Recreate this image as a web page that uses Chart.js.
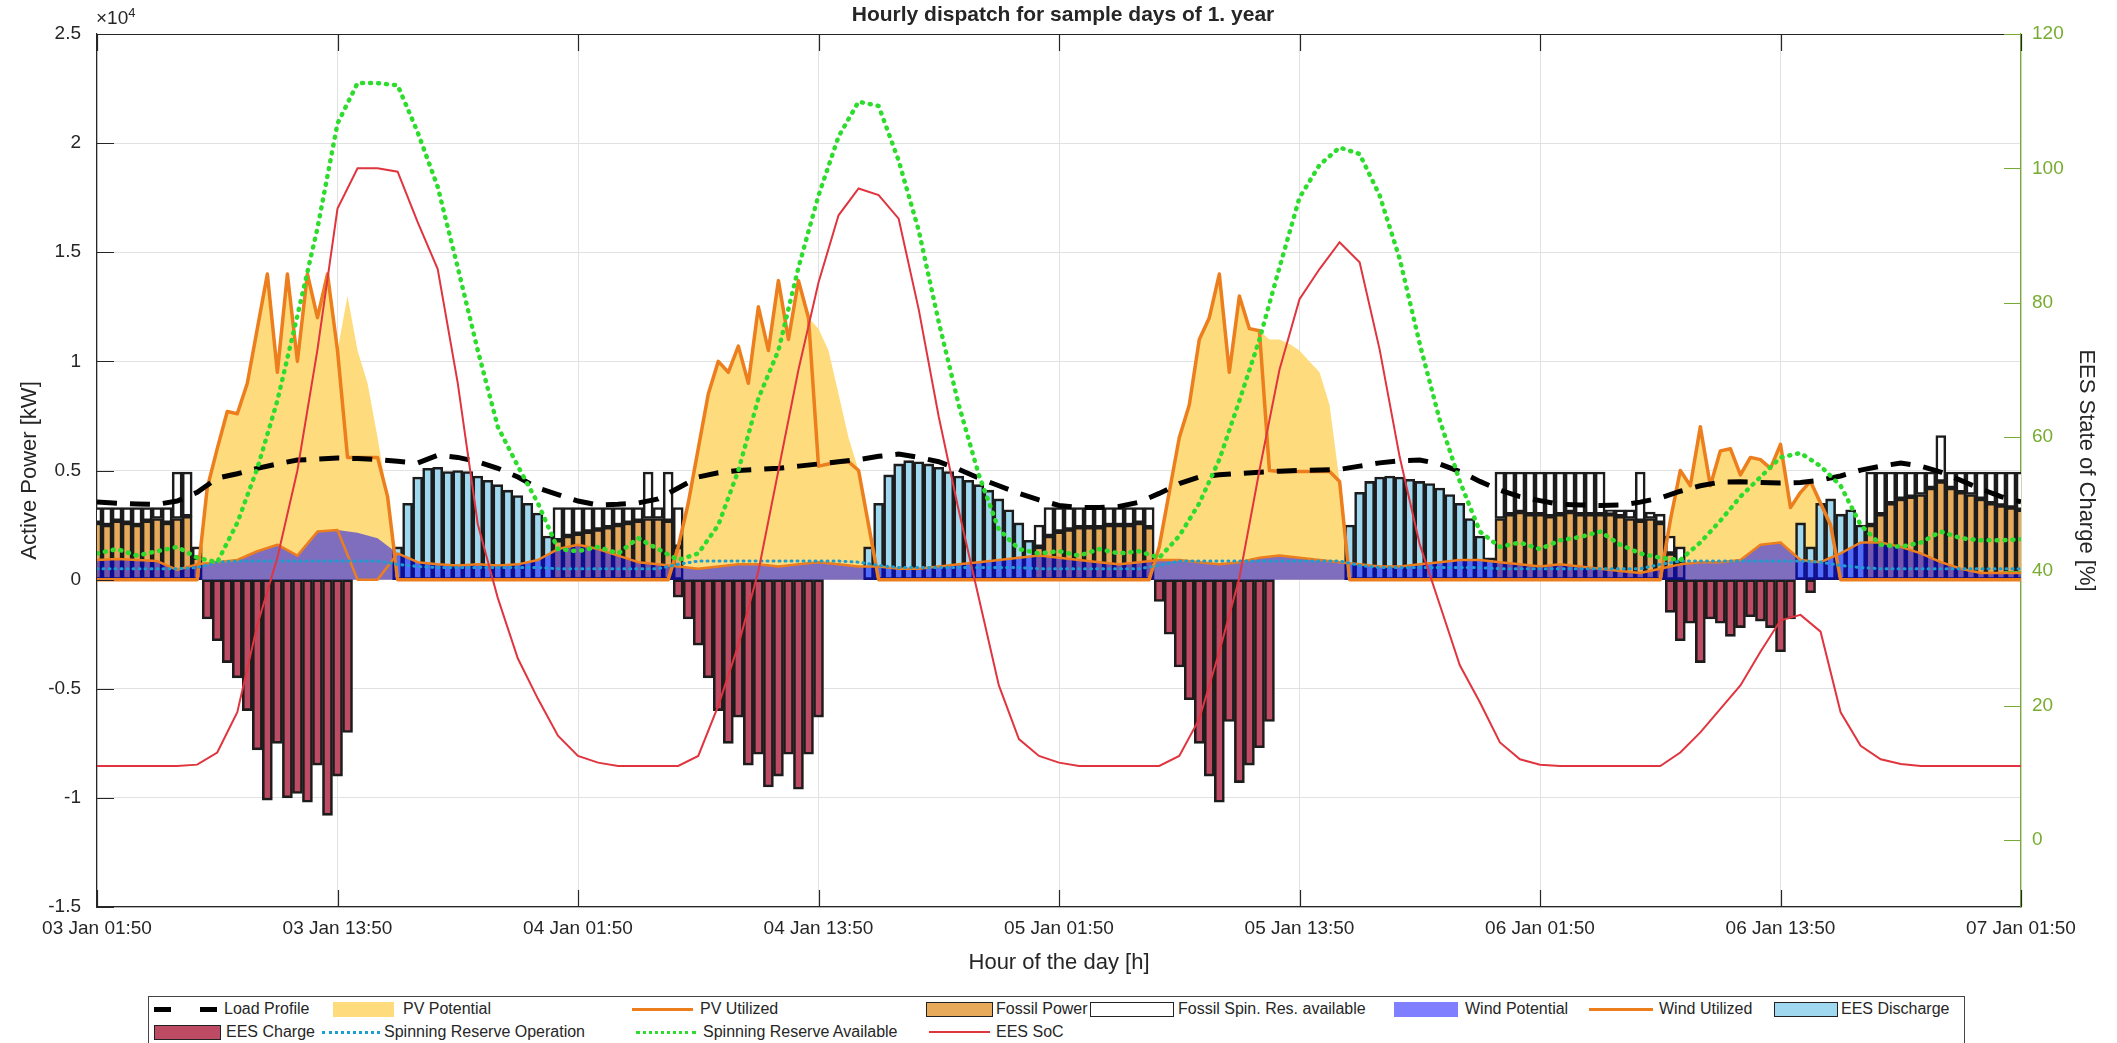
<!DOCTYPE html>
<html>
<head>
<meta charset="utf-8">
<script src="https://cdn.jsdelivr.net/npm/chart.js@4.4.1/dist/chart.umd.min.js"></script>
<style>
  body { margin: 0; background: #fff; font-family: 'Liberation Sans', Arial, sans-serif; color: #262626; }
  #wrap { position: relative; width: 2117px; height: 1043px; overflow: hidden; }
  #dispatchChart { position: absolute; left: 0; top: 0; }
  #title { position: absolute; top: 2px; left: 1063px; transform: translateX(-50%); font-weight: bold; font-size: 21px; white-space: nowrap; }
  #exp { position: absolute; left: 96px; top: 5px; font-size: 19px; }
  #exp sup { font-size: 13px; }
  #legendBox { position: absolute; left: 148px; top: 996px; width: 1817px; height: 60px; border: 1px solid #444; box-sizing: border-box; }
  .ico { position: absolute; box-sizing: border-box; }
  .lbl { position: absolute; font-size: 16px; line-height: 20px; white-space: nowrap; }
</style>
</head>
<body>
<div id="wrap">
  <canvas id="dispatchChart" width="2117" height="980"></canvas>
  <div id="title">Hourly dispatch for sample days of 1. year</div>
  <div id="exp">&times;10<sup>4</sup></div>

  <div id="legendBox"></div>
  <!-- row 1 -->
  <div class="ico" style="left:154px;top:1007px;width:17px;height:5px;background:#000"></div>
  <div class="ico" style="left:200px;top:1007px;width:17px;height:5px;background:#000"></div>
  <div class="lbl" style="left:224px;top:999px">Load Profile</div>
  <div class="ico" style="left:333px;top:1002px;width:61px;height:15px;background:#fedc7d"></div>
  <div class="lbl" style="left:403px;top:999px">PV Potential</div>
  <div class="ico" style="left:632px;top:1008px;width:61px;height:3px;background:#ec7e1e"></div>
  <div class="lbl" style="left:700px;top:999px">PV Utilized</div>
  <div class="ico" style="left:926px;top:1002px;width:67px;height:15px;background:#e6aa5a;border:1px solid #222"></div>
  <div class="lbl" style="left:996px;top:999px">Fossil Power</div>
  <div class="ico" style="left:1090px;top:1002px;width:84px;height:15px;background:#fff;border:1px solid #222"></div>
  <div class="lbl" style="left:1178px;top:999px">Fossil Spin. Res. available</div>
  <div class="ico" style="left:1394px;top:1002px;width:64px;height:15px;background:rgba(0,0,255,0.5)"></div>
  <div class="lbl" style="left:1465px;top:999px">Wind Potential</div>
  <div class="ico" style="left:1589px;top:1008px;width:64px;height:3px;background:#ec7e1e"></div>
  <div class="lbl" style="left:1659px;top:999px">Wind Utilized</div>
  <div class="ico" style="left:1774px;top:1002px;width:64px;height:15px;background:#a0d8f0;border:1px solid #222"></div>
  <div class="lbl" style="left:1841px;top:999px">EES Discharge</div>
  <!-- row 2 -->
  <div class="ico" style="left:154px;top:1025px;width:67px;height:15px;background:#be4b64;border:1px solid #222"></div>
  <div class="lbl" style="left:226px;top:1022px">EES Charge</div>
  <div class="ico" style="left:322px;top:1031px;width:58px;height:0;border-top:3px dotted #1a9fd0"></div>
  <div class="lbl" style="left:384px;top:1022px">Spinning Reserve Operation</div>
  <div class="ico" style="left:636px;top:1031px;width:60px;height:0;border-top:3px dotted #2edc2e"></div>
  <div class="lbl" style="left:703px;top:1022px">Spinning Reserve Available</div>
  <div class="ico" style="left:929px;top:1031px;width:61px;height:2px;background:#e0353f"></div>
  <div class="lbl" style="left:996px;top:1022px">EES SoC</div>
</div>

<script>
// Time axis: hours since 03 Jan 01:50
const xTickLabels = ['03 Jan 01:50', '03 Jan 13:50', '04 Jan 01:50', '04 Jan 13:50', '05 Jan 01:50',
                     '05 Jan 13:50', '06 Jan 01:50', '06 Jan 13:50', '07 Jan 01:50'];
const hours = Array.from({ length: 97 }, (_, i) => i);          // hourly samples
const halfHours = Array.from({ length: 193 }, (_, i) => i / 2); // half-hourly samples

// ---- half-hourly series [kW], 24 values per row = 12 h ----
const pvPotential = [
  0, 0, 0, 0, 0, 0, 0, 0, 0, 0, 0, 4200, 6000, 7700, 7600, 9000, 11500, 14000, 9500, 14000, 10000, 14000, 12000, 14000,
  10500, 13000, 10500, 9000, 6500, 3800, 0, 0, 0, 0, 0, 0, 0, 0, 0, 0, 0, 0, 0, 0, 0, 0, 0, 0,
  0, 0, 0, 0, 0, 0, 0, 0, 0, 0, 1500, 3500, 6000, 8500, 10000, 9500, 10700, 9000, 12500, 10500, 13700, 11000, 13700, 12000,
  11500, 10500, 8500, 6500, 5000, 2500, 0, 0, 0, 0, 0, 0, 0, 0, 0, 0, 0, 0, 0, 0, 0, 0, 0, 0,
  0, 0, 0, 0, 0, 0, 0, 0, 0, 0, 1500, 4000, 6500, 8000, 11000, 12000, 14000, 9500, 13000, 11500, 11400, 11000, 11000, 10800,
  10500, 10000, 9500, 8000, 4500, 0, 0, 0, 0, 0, 0, 0, 0, 0, 0, 0, 0, 0, 0, 0, 0, 0, 0, 0,
  0, 0, 0, 0, 0, 0, 0, 0, 0, 0, 0, 0, 0, 2700, 5000, 4300, 7000, 4300, 5900, 6000, 4800, 5600, 5500, 5100,
  6200, 3300, 4000, 4500, 3500, 2500, 0, 0, 0, 0, 0, 0, 0, 0, 0, 0, 0, 0, 0, 0, 0, 0, 0, 0,
  0
];
const pvUtilized = [
  0, 0, 0, 0, 0, 0, 0, 0, 0, 0, 0, 4200, 6000, 7700, 7600, 9000, 11500, 14000, 9500, 14000, 10000, 14000, 12000, 14000,
  10500, 5600, 5600, 5600, 5600, 3800, 0, 0, 0, 0, 0, 0, 0, 0, 0, 0, 0, 0, 0, 0, 0, 0, 0, 0,
  0, 0, 0, 0, 0, 0, 0, 0, 0, 0, 1500, 3500, 6000, 8500, 10000, 9500, 10700, 9000, 12500, 10500, 13700, 11000, 13700, 12000,
  5200, 5300, 5400, 5400, 5000, 2500, 0, 0, 0, 0, 0, 0, 0, 0, 0, 0, 0, 0, 0, 0, 0, 0, 0, 0,
  0, 0, 0, 0, 0, 0, 0, 0, 0, 0, 1500, 4000, 6500, 8000, 11000, 12000, 14000, 9500, 13000, 11500, 11400, 5000, 4950, 4950,
  4950, 4950, 4950, 4950, 4500, 0, 0, 0, 0, 0, 0, 0, 0, 0, 0, 0, 0, 0, 0, 0, 0, 0, 0, 0,
  0, 0, 0, 0, 0, 0, 0, 0, 0, 0, 0, 0, 0, 2700, 5000, 4300, 7000, 4300, 5900, 6000, 4800, 5600, 5500, 5100,
  6200, 3300, 4000, 4500, 3500, 2500, 0, 0, 0, 0, 0, 0, 0, 0, 0, 0, 0, 0, 0, 0, 0, 0, 0, 0,
  0
];
const fossilPower = [
  2600, 2500, 2700, 2600, 2500, 2700, 2800, 2600, 2800, 2900, 1000, 0, 0, 0, 0, 0, 0, 0, 0, 0, 0, 0, 0, 0,
  0, 0, 0, 0, 0, 0, 0, 0, 0, 0, 0, 0, 0, 0, 0, 0, 0, 0, 0, 0, 0, 0, 1800, 2000,
  2100, 2200, 2300, 2400, 2500, 2600, 2700, 2800, 2800, 2700, 1500, 0, 0, 0, 0, 0, 0, 0, 0, 0, 0, 0, 0, 0,
  0, 0, 0, 0, 0, 0, 0, 0, 0, 0, 0, 0, 0, 0, 0, 0, 0, 0, 0, 0, 0, 0, 1500, 2000,
  2200, 2300, 2400, 2400, 2400, 2500, 2500, 2500, 2600, 2400, 0, 0, 0, 0, 0, 0, 0, 0, 0, 0, 0, 0, 0, 0,
  0, 0, 0, 0, 0, 0, 0, 0, 0, 0, 0, 0, 0, 0, 0, 0, 0, 0, 0, 0, 2800, 3000, 3100, 3000,
  3000, 2900, 3000, 3100, 3000, 3000, 3000, 3000, 2900, 2800, 2700, 2800, 2600, 1200, 800, 0, 0, 0, 0, 0, 0, 0, 0, 0,
  0, 0, 0, 0, 0, 0, 0, 0, 0, 2500, 3000, 3500, 3700, 3800, 3900, 4200, 4500, 4200, 4000, 3900, 3700, 3500, 3400, 3300,
  3200
];
const spinReserve = [
  700, 800, 600, 700, 800, 600, 500, 700, 2130, 2030, 500, 0, 0, 0, 0, 0, 0, 0, 0, 0, 0, 0, 0, 0,
  0, 0, 0, 0, 0, 0, 0, 0, 0, 0, 0, 0, 0, 0, 0, 0, 0, 0, 0, 0, 0, 0, 1500, 1300,
  1200, 1100, 1000, 900, 800, 700, 600, 2130, 500, 2230, 1800, 0, 0, 0, 0, 0, 0, 0, 0, 0, 0, 0, 0, 0,
  0, 0, 0, 0, 0, 0, 0, 0, 0, 0, 0, 0, 0, 0, 0, 0, 0, 0, 0, 0, 0, 0, 1000, 1300,
  1100, 1000, 900, 900, 900, 800, 800, 800, 700, 900, 0, 0, 0, 0, 0, 0, 0, 0, 0, 0, 0, 0, 0, 0,
  0, 0, 0, 0, 0, 0, 0, 0, 0, 0, 0, 0, 0, 0, 0, 0, 0, 0, 0, 0, 2130, 1930, 1830, 1930,
  1930, 2030, 1930, 1830, 1930, 1930, 1930, 200, 300, 400, 2230, 300, 400, 800, 700, 0, 0, 0, 0, 0, 0, 0, 0, 0,
  0, 0, 0, 0, 0, 0, 0, 0, 0, 2430, 1930, 1430, 1230, 1130, 1030, 730, 2100, 730, 930, 1030, 1230, 1430, 1530, 1630,
  1730
];
const eesDischarge = [
  0, 0, 0, 0, 0, 0, 0, 0, 0, 0, 0, 0, 0, 0, 0, 0, 0, 0, 0, 0, 0, 0, 0, 0,
  0, 0, 0, 0, 0, 0, 1500, 3500, 4700, 5100, 5150, 4950, 5000, 4950, 4750, 4550, 4350, 4100, 3850, 3500, 3050, 2000, 0, 0,
  0, 0, 0, 0, 0, 0, 0, 0, 0, 0, 0, 0, 0, 0, 0, 0, 0, 0, 0, 0, 0, 0, 0, 0,
  0, 0, 0, 0, 0, 1500, 3500, 4800, 5300, 5450, 5400, 5300, 5150, 4950, 4750, 4550, 4350, 4100, 3700, 3200, 2600, 1800, 0, 0,
  0, 0, 0, 0, 0, 0, 0, 0, 0, 0, 0, 0, 0, 0, 0, 0, 0, 0, 0, 0, 0, 0, 0, 0,
  0, 0, 0, 0, 0, 2500, 4000, 4500, 4700, 4750, 4700, 4600, 4500, 4400, 4200, 3900, 3500, 2800, 2000, 1000, 0, 0, 0, 0,
  0, 0, 0, 0, 0, 0, 0, 0, 0, 0, 0, 0, 0, 0, 0, 0, 0, 0, 0, 0, 0, 0, 0, 0,
  0, 0, 2600, 1500, 3500, 3700, 3000, 3200, 2500, 0, 0, 0, 0, 0, 0, 0, 0, 0, 0, 0, 0, 0, 0, 0,
  0
];
const eesCharge = [
  0, 0, 0, 0, 0, 0, 0, 0, 0, 0, 0, -1800, -2800, -3800, -4500, -6000, -7800, -10100, -7500, -10000, -9800, -10200, -8500, -10800,
  -9000, -7000, 0, 0, 0, 0, 0, 0, 0, 0, 0, 0, 0, 0, 0, 0, 0, 0, 0, 0, 0, 0, 0, 0,
  0, 0, 0, 0, 0, 0, 0, 0, 0, 0, -800, -1800, -3000, -4500, -6000, -7500, -6300, -8500, -8000, -9500, -9000, -8000, -9600, -8000,
  -6300, 0, 0, 0, 0, 0, 0, 0, 0, 0, 0, 0, 0, 0, 0, 0, 0, 0, 0, 0, 0, 0, 0, 0,
  0, 0, 0, 0, 0, 0, 0, 0, 0, 0, -1000, -2500, -4000, -5500, -7500, -9000, -10200, -6500, -9300, -8500, -7700, -6500, 0, 0,
  0, 0, 0, 0, 0, 0, 0, 0, 0, 0, 0, 0, 0, 0, 0, 0, 0, 0, 0, 0, 0, 0, 0, 0,
  0, 0, 0, 0, 0, 0, 0, 0, 0, 0, 0, 0, 0, -1500, -2800, -2000, -3800, -1800, -2000, -2600, -2200, -1700, -1900, -2200,
  -3300, -1800, 0, -600, 0, 0, 0, 0, 0, 0, 0, 0, 0, 0, 0, 0, 0, 0, 0, 0, 0, 0, 0, 0,
  0
];

// ---- hourly series, 12 values per row ----
const loadProfile = [
  3560, 3500, 3470, 3450, 3600, 4000, 4650, 4850, 5100, 5300, 5480, 5520,
  5570, 5550, 5500, 5420, 5340, 5700, 5600, 5400, 5100, 4700, 4200, 3900,
  3600, 3420, 3450, 3510, 3700, 4200, 4700, 4900, 5000, 5050, 5100, 5200,
  5300, 5400, 5500, 5650, 5750, 5600, 5400, 5050, 4650, 4300, 3950, 3650,
  3400, 3300, 3300, 3350, 3550, 3950, 4400, 4700, 4800, 4860, 4920, 4970,
  5000, 5020, 5050, 5200, 5350, 5450, 5480, 5300, 4950, 4500, 4100, 3800,
  3620, 3450, 3420, 3400, 3420, 3550, 3740, 4050, 4300, 4470, 4480, 4450,
  4430, 4450, 4560, 4750, 5020, 5200, 5340, 5200, 4930, 4550, 4150, 3800,
  3560
];
const windPotential = [
  900, 950, 900, 850, 450, 700, 800, 900, 1300, 1600, 1100, 2200,
  2270, 2150, 1900, 1200, 800, 700, 650, 700, 650, 700, 900, 1400,
  1600, 1400, 1100, 800, 700, 600, 500, 600, 700, 700, 600, 700,
  800, 700, 600, 600, 500, 500, 600, 700, 800, 900, 1000, 1100,
  1000, 900, 800, 700, 800, 900, 900, 800, 700, 800, 1000, 1100,
  1000, 900, 800, 700, 600, 600, 700, 800, 900, 900, 800, 700,
  600, 700, 600, 500, 400, 300, 500, 700, 800, 800, 900, 1600,
  1700, 900, 800, 1200, 1700, 1700, 1500, 1200, 800, 500, 300, 300,
  300
];
const windUtilized = [
  900, 950, 900, 850, 450, 700, 800, 900, 1300, 1600, 1100, 2200,
  2270, 0, 0, 1200, 800, 700, 650, 700, 650, 700, 900, 1400,
  1600, 1400, 1100, 800, 700, 600, 500, 600, 700, 700, 600, 700,
  800, 700, 600, 600, 500, 500, 600, 700, 800, 900, 1000, 1100,
  1000, 900, 800, 700, 800, 900, 900, 800, 700, 800, 1000, 1100,
  1000, 900, 800, 700, 600, 600, 700, 800, 900, 900, 800, 700,
  600, 700, 600, 500, 400, 300, 500, 700, 800, 800, 900, 1600,
  1700, 900, 800, 1200, 1700, 1700, 1500, 1200, 800, 500, 300, 300,
  300
];
const srOperation = [
  500, 500, 500, 500, 500, 550, 800, 850, 850, 850, 850, 850,
  850, 850, 850, 700, 600, 550, 550, 550, 550, 550, 550, 500,
  500, 500, 500, 500, 500, 700, 850, 850, 850, 850, 850, 850,
  850, 850, 800, 650, 550, 550, 550, 550, 550, 550, 550, 500,
  500, 500, 500, 500, 500, 650, 850, 850, 850, 850, 850, 850,
  850, 850, 850, 650, 550, 550, 550, 550, 550, 550, 500, 500,
  500, 500, 500, 500, 500, 500, 700, 850, 850, 850, 850, 850,
  850, 850, 800, 650, 550, 500, 500, 500, 500, 500, 500, 500,
  500
];
const srAvailable = [
  1200, 1400, 1100, 1300, 1500, 1000, 800, 2600, 5100, 8200, 12100, 16100,
  20900, 22750, 22750, 22650, 20500, 18000, 14300, 10500, 7000, 5200, 3500, 1400,
  1300, 1500, 1200, 1900, 1400, 900, 1200, 2500, 5000, 8300, 10500, 14300,
  17600, 20300, 21900, 21700, 19200, 16000, 11800, 8000, 4800, 2300, 1400, 1200,
  1300, 1100, 1400, 1200, 1300, 1000, 2000, 3500, 5500, 8200, 11000, 14300,
  17500, 19000, 19800, 19500, 17600, 14700, 10800, 7300, 4500, 2200, 1500, 1700,
  1400, 1800, 1950, 2200, 1600, 1200, 1000, 900, 1700, 2700, 3800, 4700,
  5600, 5800, 5200, 4300, 2500, 1600, 1500, 1700, 2200, 1900, 1800, 1800,
  1850
];
// EES state of charge [%], right axis
const eesSoc = [
  11, 11, 11, 11, 11, 11.2, 13, 19, 32, 42, 55, 73,
  94, 100, 100, 99.5, 92, 85, 68, 47, 36, 27, 21, 15.5,
  12.5, 11.5, 11, 11, 11, 11, 12.5, 20, 29, 40, 55, 70,
  83, 93, 97, 96, 92.5, 79, 63, 49, 36, 23, 15, 12.5,
  11.5, 11, 11, 11, 11, 11, 12.5, 18, 28, 39, 55, 70,
  80.5, 85, 89, 86, 73, 57, 44, 35, 26, 20.5, 14.5, 12,
  11.2, 11, 11, 11, 11, 11, 11, 13, 16, 19.5, 23, 28,
  32.7, 33.5, 31, 19, 14, 12, 11.3, 11, 11, 11, 11, 11,
  11
];

const asPoints = (xs, ys) => ys.map((y, i) => ({ x: xs[i], y: y }));
const asBars = (ys) => ys.map((y, i) => ({ x: halfHours[i], y: y === 0 ? null : y }));

const axisInk = '#262626';
const socInk = '#77ac30';
const gridInk = '#e2e2e2';

// MATLAB-like box: top border and inward tick marks
const boxTicks = {
  id: 'boxTicks',
  afterDraw(chart) {
    const { ctx, chartArea: a, scales } = chart;
    const len = 17;
    ctx.save();
    ctx.lineWidth = 1.2;
    ctx.strokeStyle = axisInk;
    ctx.beginPath();
    ctx.moveTo(a.left, a.top + 0.5);
    ctx.lineTo(a.right, a.top + 0.5);
    scales.x.ticks.forEach(t => {
      const px = Math.round(scales.x.getPixelForValue(t.value)) + 0.5;
      ctx.moveTo(px, a.bottom); ctx.lineTo(px, a.bottom - len);
      ctx.moveTo(px, a.top); ctx.lineTo(px, a.top + len);
    });
    scales.y.ticks.forEach(t => {
      const py = Math.round(scales.y.getPixelForValue(t.value)) + 0.5;
      ctx.moveTo(a.left, py); ctx.lineTo(a.left + len, py);
    });
    ctx.stroke();
    ctx.strokeStyle = socInk;
    ctx.beginPath();
    scales.y2.ticks.forEach(t => {
      const py = Math.round(scales.y2.getPixelForValue(t.value)) + 0.5;
      ctx.moveTo(a.right, py); ctx.lineTo(a.right - len, py);
    });
    ctx.stroke();
    ctx.restore();
  }
};

Chart.defaults.font.family = "'Liberation Sans', Arial, sans-serif";
Chart.defaults.color = axisInk;

const barStyle = {
  type: 'bar', yAxisID: 'yb', stack: 'dispatch', order: 7,
  borderColor: '#1c1c1c', borderWidth: 2.6, borderSkipped: false,
  barPercentage: 1, categoryPercentage: 1
};

new Chart(document.getElementById('dispatchChart'), {
  type: 'line',
  data: {
    datasets: [
      { label: 'EES SoC', data: asPoints(hours, eesSoc), yAxisID: 'y2', order: 0,
        borderColor: '#e0353f', borderWidth: 2 },
      { label: 'Spinning Reserve Available', data: asPoints(hours, srAvailable), order: 1,
        borderColor: '#2edc2e', borderWidth: 4.5, borderDash: [1, 7], borderCapStyle: 'round' },
      { label: 'Spinning Reserve Operation', data: asPoints(hours, srOperation), order: 2,
        borderColor: '#1a9fd0', borderWidth: 3, borderDash: [1, 5], borderCapStyle: 'round' },
      { label: 'Load Profile', data: asPoints(hours, loadProfile), order: 3,
        borderColor: '#000', borderWidth: 5, borderDash: [20, 13] },
      { label: 'Wind Utilized', data: asPoints(hours, windUtilized), order: 4,
        borderColor: '#ec7e1e', borderWidth: 2.5, borderJoinStyle: 'round' },
      { label: 'PV Utilized', data: asPoints(halfHours, pvUtilized), order: 5,
        borderColor: '#ec7e1e', borderWidth: 3.5, borderJoinStyle: 'round' },
      { label: 'Wind Potential', data: asPoints(hours, windPotential), order: 6,
        borderWidth: 0, borderColor: 'rgba(0,0,0,0)', fill: 'origin', backgroundColor: 'rgba(0,0,255,0.5)' },
      { ...barStyle, label: 'Fossil Power', data: asBars(fossilPower), backgroundColor: '#e6aa5a' },
      { ...barStyle, label: 'Fossil Spin. Res. available', data: asBars(spinReserve), backgroundColor: '#ffffff' },
      { ...barStyle, label: 'EES Discharge', data: asBars(eesDischarge), backgroundColor: '#a0d8f0' },
      { ...barStyle, label: 'EES Charge', data: asBars(eesCharge), backgroundColor: '#be4b64' },
      { label: 'PV Potential', data: asPoints(halfHours, pvPotential), order: 8,
        borderWidth: 0, borderColor: 'rgba(0,0,0,0)', fill: 'origin', backgroundColor: '#fedc7d' }
    ]
  },
  options: {
    responsive: false,
    animation: false,
    devicePixelRatio: 1,
    layout: { padding: { top: 34, left: 0, right: 0, bottom: 0 } },
    elements: { point: { radius: 0 }, line: { tension: 0 } },
    plugins: { legend: { display: false }, tooltip: { enabled: false } },
    scales: {
      x: {
        type: 'linear', min: 0, max: 96, offset: false,
        ticks: { stepSize: 12, autoSkip: false, maxRotation: 0, padding: 10, font: { size: 19 },
                 callback: v => xTickLabels[v / 12] },
        grid: { color: gridInk, drawTicks: false, offset: false },
        border: { color: axisInk, width: 1.2 },
        title: { display: true, text: 'Hour of the day [h]', font: { size: 22 }, padding: { top: 0, bottom: 4 } },
        afterFit: s => { s.height = 73; }
      },
      y: {
        position: 'left', min: -15000, max: 25000,
        ticks: { stepSize: 5000, padding: 16, font: { size: 19 }, callback: v => String(v / 10000) },
        grid: { color: gridInk, drawTicks: false },
        border: { color: axisInk, width: 1.2 },
        title: { display: true, text: 'Active Power [kW]', font: { size: 22 }, padding: { top: 17, bottom: 0 } },
        afterFit: s => { s.width = 97; }
      },
      yb: { display: false, stacked: true, min: -15000, max: 25000 },
      y2: {
        position: 'right', min: -10, max: 120,
        ticks: { stepSize: 20, padding: 11, color: socInk, font: { size: 19 } },
        afterBuildTicks: s => { s.ticks = s.ticks.filter(t => t.value >= 0); },
        grid: { drawOnChartArea: false, drawTicks: false },
        border: { color: socInk, width: 1.2 },
        title: { display: true, text: 'EES State of Charge [%]', font: { size: 22 }, padding: { top: 18, bottom: 0 } },
        afterFit: s => { s.width = 96; }
      }
    }
  },
  plugins: [boxTicks]
});
</script>
</body>
</html>
